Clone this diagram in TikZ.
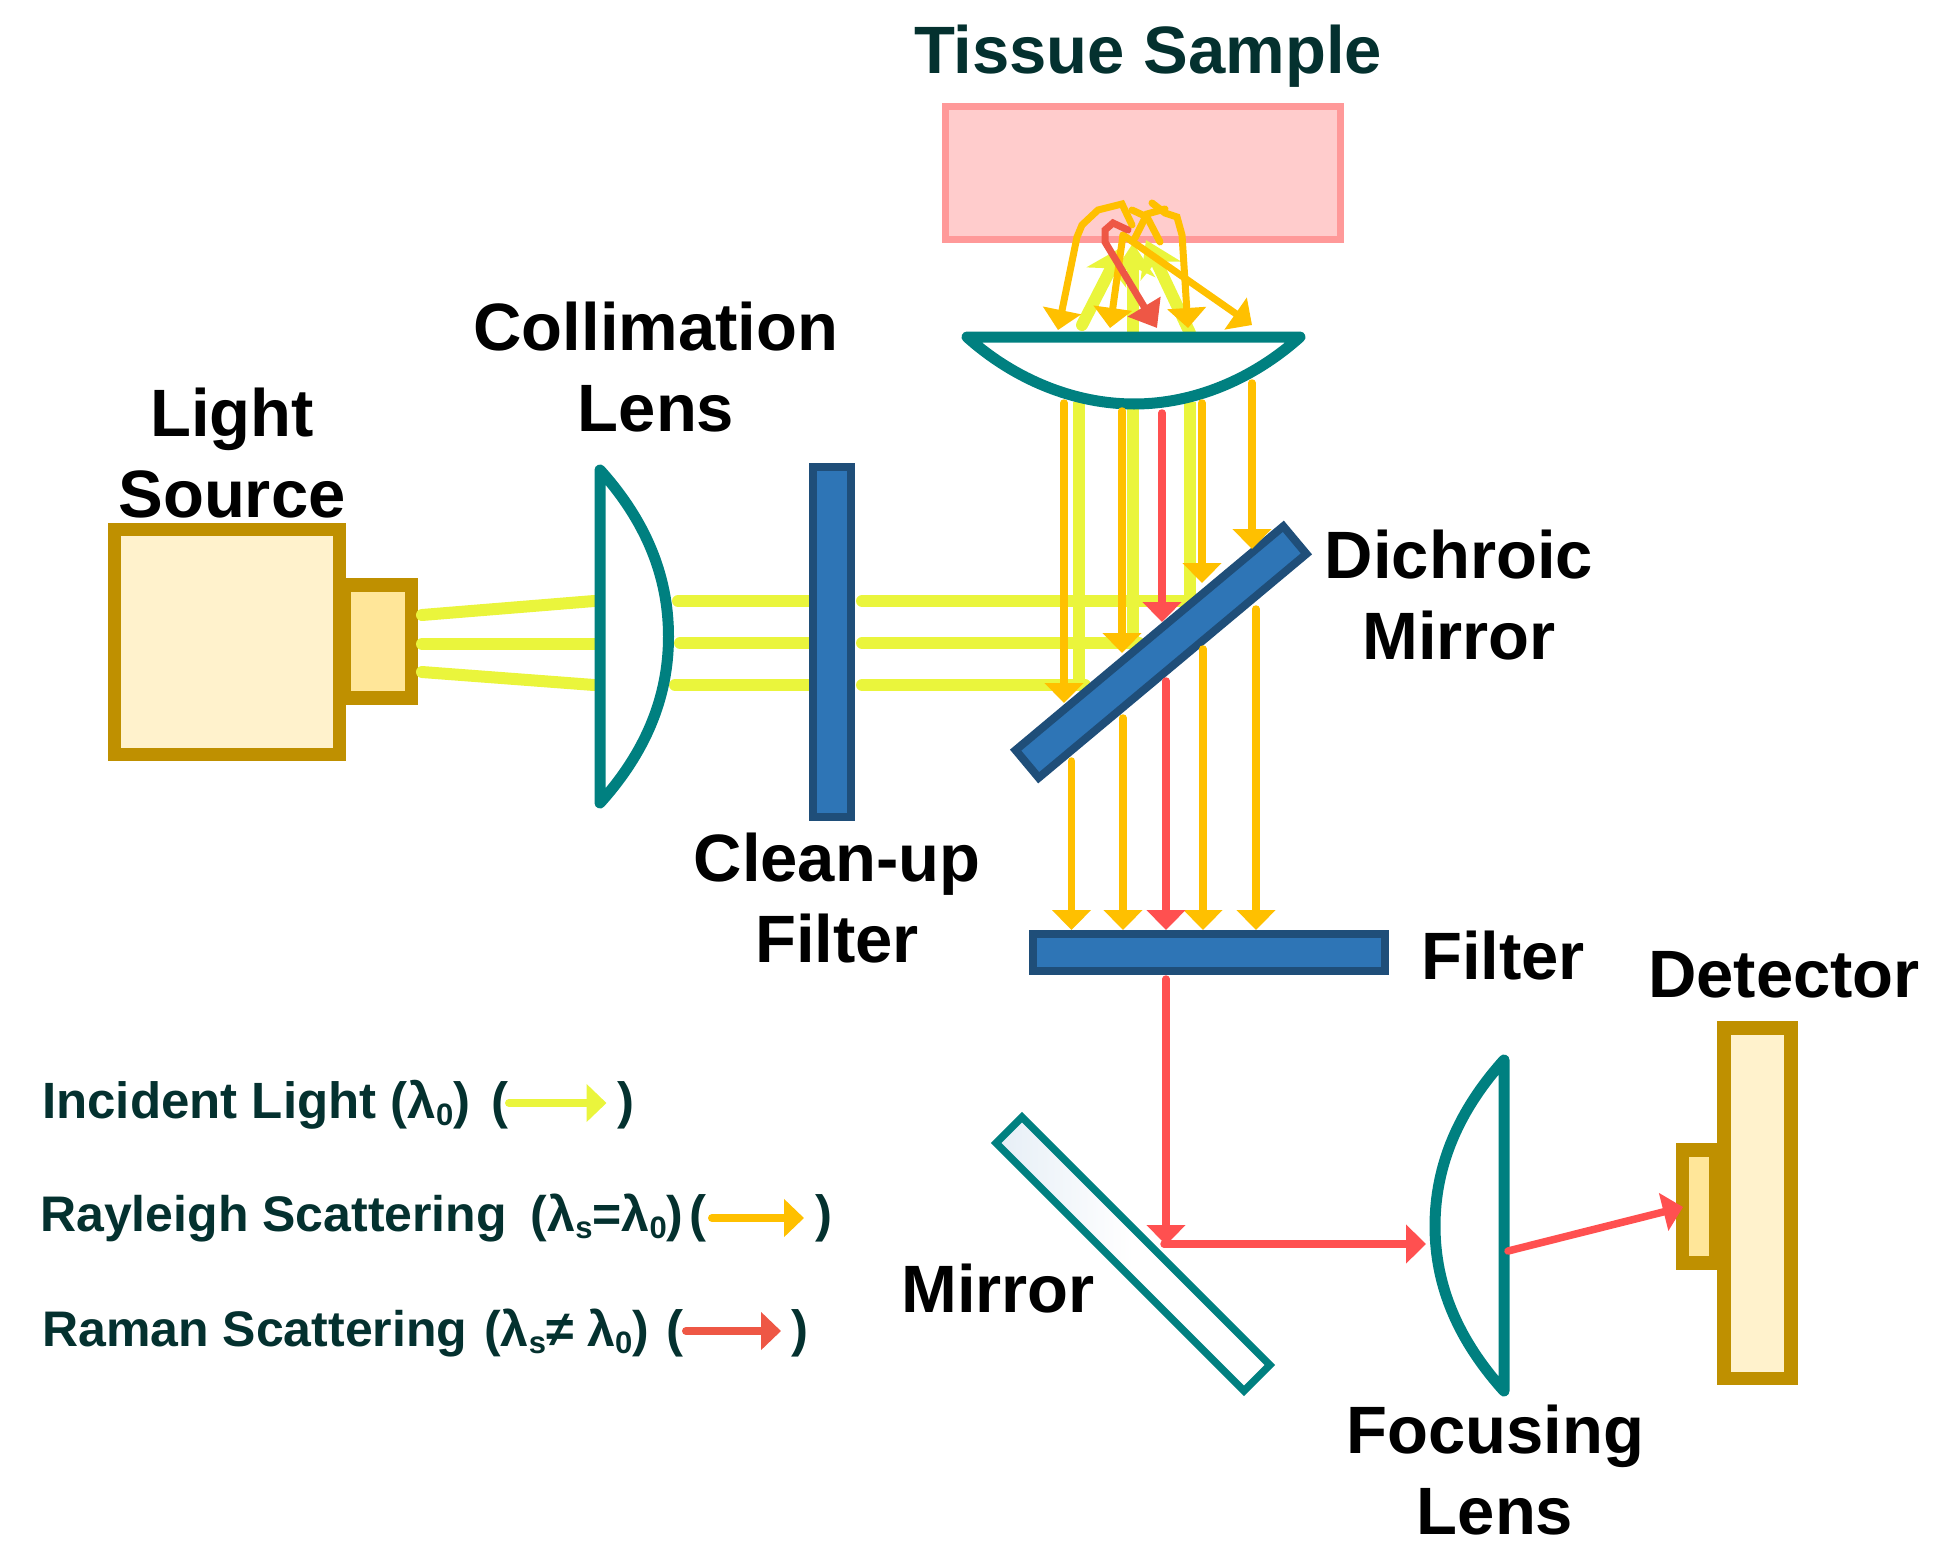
\documentclass[tikz,border=0pt]{standalone}
\usepackage{fontspec}
\setmainfont{Liberation Sans}
\usepackage{tikz}
\usetikzlibrary{arrows.meta}
\definecolor{lensteal}{HTML}{008080}
\definecolor{goldline}{HTML}{BF9000}
\definecolor{goldfill}{HTML}{FFF2CC}
\definecolor{goldlamp}{HTML}{FFE699}
\definecolor{filterblue}{HTML}{2E75B6}
\definecolor{filterline}{HTML}{1F4E79}
\definecolor{incident}{HTML}{EAF53C}
\definecolor{rayleigh}{HTML}{FFC000}
\definecolor{raman}{HTML}{FF5050}
\definecolor{ramandark}{HTML}{EE5745}
\definecolor{darktext}{HTML}{04312F}
\newcommand{\lamsub}[1]{\raisebox{-0.14em}{\fontsize{31}{31}\selectfont #1}}
\tikzset{
  bigtext/.style={font=\bfseries\fontsize{67}{81}\selectfont, align=center, inner sep=0},
  legendtext/.style={font=\bfseries\fontsize{51}{60}\selectfont, text=darktext, inner sep=0, anchor=base west},
  legendnarrow/.style={legendtext, font=\bfseries\fontsize{50}{60}\selectfont},
  block/.style={draw=goldline, fill=goldfill, line width=13.5pt, inner sep=0, minimum width=#1},
  glass/.style={draw=filterline, fill=filterblue, line width=8pt, inner sep=0},
  lens/.style={draw=lensteal, fill=white, line width=11pt, line join=round, line cap=round},
  inray/.style={draw=incident, line width=12pt},
  inrayc/.style={inray, line cap=round},
  rayl/.style={draw=rayleigh, line width=7.5pt, line cap=round, -{Triangle[width=38pt,length=20pt]}},
  ramn/.style={draw=raman, line width=7.5pt, line cap=round, -{Triangle[width=38pt,length=20pt]}},
  keyarrow/.style={draw=#1, line width=8pt, line cap=round, -{Triangle[width=37pt,length=20pt]}}
}
\begin{document}
\begin{tikzpicture}[x=1pt,y=-1pt]
  \useasboundingbox (0,0) rectangle (1951,1560);
  % sample and the lamp
  \node[draw=red!40!white, fill=red!20!white, line width=7pt, inner sep=0,
    minimum width=395pt, minimum height=133.5pt] (sample) at (1143,173) {};
  \node[block=225pt, minimum height=225pt] (source) at (227,642) {};
  \node[block=67pt, minimum height=113pt, fill=goldlamp] (lamp) at (378,641.5) {};
  % rays out of the lamp
  \coordinate (lamp1) at (422,615); \coordinate (colin1) at (594,601);
  \coordinate (lamp2) at (422,644); \coordinate (colin2) at (594,644);
  \coordinate (lamp3) at (422,672); \coordinate (colin3) at (594,685);
  \foreach \i in {1,2,3}
    \draw[inrayc] (lamp\i) -- (colin\i);
  \foreach \i/\a/\b in {1/678/601,2/680/643,3/675/685}{
    \coordinate (colout\i) at (\a,\b);
    \coordinate (cleanin\i) at (812,\b);
    \coordinate (cleanout\i) at (862,\b);
    \draw[inrayc] (colout\i) -- (cleanin\i);
  }
  % incident beam turned up at the dichroic
  \foreach \i/\x/\y/\ex in {1/1190/601/1196,2/1133/643/1139,3/1079/685/1085}{
    \coordinate (bend\i) at (\ex,\y);
    \coordinate (upbot\i) at (\x,\y+6);
    \coordinate (uptop\i) at (\x,402);
    \draw[inrayc] (cleanout\i) -- (bend\i);
    \draw[inray] (upbot\i) -- (uptop\i);
  }
  % incident light above the objective
  \foreach \i/\a/\b/\c/\d in {1/1082/325/1122/247,2/1133/331/1133/243,3/1190/333/1146/240}{
    \coordinate (fs\i) at (\a,\b); \coordinate (ft\i) at (\c,\d);
    \draw[draw=incident, line width=12pt, line cap=round,
      -{Stealth[width=44pt,length=34pt,inset=10pt]}] (fs\i) -- (ft\i);
  }
  % optics
  \coordinate (colt) at (600,470); \coordinate (colb) at (600,803);
  \draw[lens] (colt) .. controls (645,520) and (668.5,575) .. (668.5,636.5)
    .. controls (668.5,698) and (645,753) .. (colb) -- cycle;
  \node[glass, minimum width=37.5pt, minimum height=350.5pt] (cleanup) at (832,642) {};
  \coordinate (objl) at (967,337); \coordinate (objr) at (1300,337);
  \draw[lens] (objl) .. controls (1015,380) and (1075,404) .. (1134,404)
    .. controls (1193,404) and (1252,380) .. (objr) -- cycle;
  \node[glass, minimum width=349pt, minimum height=36pt, rotate=39.9] (dichroic) at (1161,652) {};
  \node[glass, minimum width=352pt, minimum height=37.5pt] (filter) at (1209,952.5) {};
  \node[draw=lensteal, line width=7.5pt, inner sep=0, minimum width=350.5pt, minimum height=36.5pt,
    left color=filterblue!12!white, right color=white, middle color=white, rotate=-45] (mirror) at (1133,1254) {};
  \coordinate (foct) at (1504,1060); \coordinate (focb) at (1504,1391);
  \draw[lens] (foct) .. controls (1459,1110) and (1435,1165) .. (1435,1226)
    .. controls (1435,1287) and (1459,1341) .. (focb) -- cycle;
  \node[block=67pt, minimum height=350.5pt] (detector) at (1757.5,1203) {};
  \node[block=33pt, minimum height=113pt, fill=goldlamp] (cell) at (1699,1206.5) {};
  % rayleigh and raman returning through the objective
  \foreach \n/\x/\t/\b/\xx/\s in {a/1064/403/703/1071.5/761,b/1122/411/653/1123/718,
      d/1202/403/583/1203/649,e/1252/383/549/1256/609}{
    \coordinate (retb\n) at (\x,\t);
    \coordinate (rete\n) at (\x,\b);
    \coordinate (pass\n) at (\xx,\s);
    \coordinate (fil\n) at (\xx,930);
    \draw[rayl] (retb\n) -- (rete\n);
    \draw[rayl] (pass\n) -- (fil\n);
  }
  \coordinate (retbc) at (1162,413); \coordinate (retec) at (1162,622);
  \coordinate (passc) at (1166,681); \coordinate (filc) at (1166,930);
  \draw[ramn] (retbc) -- (retec);
  \draw[ramn] (passc) -- (filc);
  % scattering at the sample
  \coordinate (sa) at (1132,225); \coordinate (sat) at (1058,330);
  \draw[rayl, line width=7pt] (sa) -- (1122,204) -- (1098,210) -- (1082,225) -- (1077,237) -- (sat);
  \coordinate (sb) at (1123,235); \coordinate (sbt) at (1110,328);
  \draw[rayl, line width=7pt] (sb) -- (sbt);
  \coordinate (sct) at (1252,325);
  \draw[rayl, line width=7pt] (sb) -- (sct);
  \coordinate (sd) at (1152,203); \coordinate (sdt) at (1188,328);
  \draw[rayl, line width=7pt] (sd) -- (1165,213) -- (1177,217) -- (1182,235) -- (sdt);
  \coordinate (se) at (1132,210); \coordinate (ef) at (1160,242); \coordinate (eg) at (1135,238);
  \draw[draw=rayleigh, line width=7pt, line cap=round] (se) -- (1147,217) -- (ef);
  \draw[draw=rayleigh, line width=7pt, line cap=round] (eg) -- (1147,214) -- (1165,209);
  \coordinate (rs) at (1128,230); \coordinate (rst) at (1157,328);
  \draw[draw=ramandark, line width=7pt, line cap=round, -{Triangle[width=37pt,length=25pt]}]
    (rs) -- (1113,223) -- (1105,230) -- (1105,242) -- (rst);
  % raman on to the detector
  \coordinate (fo) at (1166,979); \coordinate (md) at (1166,1245); \coordinate (mh) at (1164,1244);
  \coordinate (li) at (1426,1244); \coordinate (lo) at (1508,1251); \coordinate (cellin) at (1683,1207);
  \draw[ramn] (fo) -- (md);
  \draw[ramn] (mh) -- (li);
  \draw[ramn] (lo) -- (cellin);
  % labels
  \node[bigtext, text=darktext] (tissuelbl) at (1148,56) {Tissue Sample};
  \node[bigtext] (sourcelbl) at (232,453) {Light\\Source};
  \node[bigtext] (collbl) at (656,367.5) {Collimation\\Lens};
  \node[bigtext] (cleanlbl) at (837,898) {Clean-up\\Filter};
  \node[bigtext] (dichlbl) at (1459,595) {Dichroic\\Mirror};
  \node[bigtext] (filterlbl) at (1503,956) {Filter};
  \node[bigtext] (detlbl) at (1784,975) {Detector};
  \node[bigtext] (mirrorlbl) at (998,1289) {Mirror};
  \node[bigtext] (foclbl) at (1495,1470) {Focusing\\Lens};
  % legend
  \node[legendtext] (leginc) at (42,1118) {Incident Light (λ\lamsub{0})};
  \node[legendtext] (incl) at (491,1118) {(};
  \node[legendtext] (incr) at (617,1118) {)};
  \node[legendnarrow] (legray) at (40,1231) {Rayleigh Scattering\hspace{24pt}(λ\lamsub{s}=λ\lamsub{0})};
  \node[legendtext] (rayl) at (689,1231) {(};
  \node[legendtext] (rayr) at (815,1231) {)};
  \node[legendnarrow] (legram) at (42,1346) {Raman Scattering\hspace{17pt}(λ\lamsub{s}≠ λ\lamsub{0})};
  \node[legendtext] (raml) at (666,1346) {(};
  \node[legendtext] (ramr) at (791,1346) {)};
  \coordinate (k1a) at (509,1103); \coordinate (k1b) at (606.5,1103);
  \coordinate (k2a) at (712,1218); \coordinate (k2b) at (804,1218);
  \coordinate (k3a) at (686,1331); \coordinate (k3b) at (781,1331);
  \draw[keyarrow=incident] (k1a) -- (k1b);
  \draw[keyarrow=rayleigh] (k2a) -- (k2b);
  \draw[keyarrow=ramandark] (k3a) -- (k3b);
\end{tikzpicture}
\end{document}
